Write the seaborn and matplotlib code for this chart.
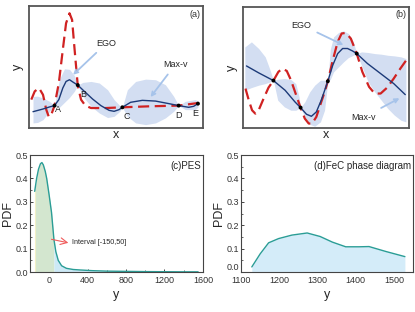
import numpy as np
import matplotlib
matplotlib.use("Agg")
import matplotlib.pyplot as plt
from matplotlib.ticker import AutoMinorLocator
import seaborn as sns

sns.set_theme(style="white")
plt.rcParams['font.family'] = ['Liberation Sans', 'DejaVu Sans']

# ---- panel (a): schematic, arbitrary units 0..10 ----
a_true_x = [0.13, 0.33, 0.58, 0.81, 1.0, 1.15, 1.29, 1.48, 1.73, 1.96, 2.15, 2.35, 2.5, 2.63,
            2.83, 3.02, 3.27, 3.6, 4.46, 5.42, 6.96, 8.69, 9.81]
a_true_y = [2.32, 3.0, 3.27, 2.72, 1.5, 0.9, 1.09, 1.83, 3.68, 6.4, 8.58, 9.4, 8.86, 6.68,
            3.46, 2.32, 1.83, 1.63, 1.63, 1.69, 1.77, 1.83, 2.04]
a_mean_x = [0.23, 0.81, 1.19, 1.48, 1.73, 1.96, 2.15, 2.35, 2.58, 2.83, 3.21, 3.69, 4.17, 4.65,
            4.94, 5.23, 5.42, 5.9, 6.58, 7.35, 8.12, 8.69, 9.27, 9.56, 9.81]
a_mean_y = [1.33, 1.55, 1.72, 1.83, 2.32, 3.27, 3.81, 3.95, 3.73, 3.51, 3.0, 2.37, 1.83, 1.44,
            1.36, 1.5, 1.69, 2.1, 2.26, 2.2, 1.99, 1.83, 1.69, 1.77, 1.99]
a_band_x = [0.23, 0.5, 0.81, 1.19, 1.48, 1.77, 2.06, 2.35, 2.63, 2.83, 3.12, 3.6, 4.08, 4.56,
            4.94, 5.27, 5.42, 5.71, 6.19, 6.77, 7.35, 7.92, 8.4, 8.69, 9.08, 9.65, 9.81]
a_band_hi = [2.59, 2.6, 2.45, 2.18, 1.83, 4.0, 4.85, 4.8, 4.3, 3.51, 3.73, 3.81, 3.68, 3.13,
             2.32, 1.83, 1.69, 3.13, 3.81, 4.0, 3.95, 3.54, 2.59, 1.83, 2.18, 2.32, 2.2]
a_band_lo = [0.41, 0.45, 0.68, 1.36, 1.83, 1.7, 2.1, 2.5, 3.0, 3.51, 2.59, 1.77, 1.22, 0.85,
             0.95, 1.36, 1.69, 0.95, 0.41, 0.27, 0.41, 0.82, 1.36, 1.83, 1.5, 1.5, 1.7]
a_pts_x = [1.48, 2.83, 5.42, 8.69, 9.81]
a_pts_y = [1.83, 3.51, 1.69, 1.83, 1.99]
a_letters = ["A", "B", "C", "D", "E"]
a_letter_x = [1.67, 3.12, 5.67, 8.69, 9.65]
a_letter_y = [1.5, 2.75, 0.9, 1.05, 1.2]

# ---- panel (b) ----
b_true_x = [0.14, 0.34, 0.54, 0.74, 0.94, 1.24, 1.54, 1.84, 2.14, 2.38, 2.65, 2.91, 3.19, 3.49,
            3.75, 3.99, 4.19, 4.45, 4.75, 4.99, 5.15, 5.45, 5.75, 5.99, 6.25, 6.55, 6.91, 7.25,
            7.66, 8.0, 8.36, 8.76, 9.16, 9.56, 9.92]
b_true_y = [3.25, 2.29, 1.46, 1.18, 1.46, 2.42, 3.33, 3.91, 4.63, 4.9, 4.71, 3.94, 2.84, 1.68,
            0.77, 0.36, 0.36, 0.91, 2.15, 3.11, 3.86, 5.59, 7.11, 7.8, 7.85, 7.38, 6.14, 4.63,
            3.39, 2.84, 2.84, 3.33, 4.08, 4.9, 5.59]
b_mean_x = [0.2, 0.94, 1.84, 2.55, 3.15, 3.49, 3.85, 4.15, 4.45, 4.75, 5.15, 5.45, 5.75, 6.05,
            6.35, 6.65, 6.91, 7.56, 8.36, 9.16, 9.86]
b_mean_y = [5.12, 4.55, 3.91, 3.11, 2.15, 1.68, 1.13, 0.96, 1.32, 2.29, 3.86, 5.18, 6.14, 6.56,
            6.56, 6.36, 6.14, 5.32, 4.49, 3.66, 2.75]
b_band_x = [0.1, 0.5, 0.94, 1.34, 1.64, 1.84, 2.1, 2.5, 2.9, 3.2, 3.4, 3.49, 3.75, 4.05, 4.35,
            4.7, 4.95, 5.15, 5.3, 5.5, 5.8, 6.1, 6.4, 6.7, 6.91, 7.2, 7.6, 8.0, 8.4, 8.8, 9.2,
            9.6, 9.9]
b_band_hi = [6.69, 7.11, 6.56, 5.87, 4.77, 3.91, 4.02, 4.08, 4.0, 3.66, 2.56, 1.68, 2.15, 2.98,
             3.53, 3.94, 3.94, 3.86, 6.5, 7.52, 7.88, 8.02, 7.8, 7.11, 6.14, 6.28, 6.23, 6.14,
             6.09, 6.0, 5.95, 5.87, 5.73]
b_band_lo = [3.11, 3.33, 3.53, 3.66, 3.8, 3.91, 2.29, 1.74, 1.46, 1.46, 1.6, 1.68, 0.91, 0.3,
             0.14, 0.5, 1.46, 3.86, 4.0, 4.63, 5.04, 5.45, 5.81, 6.0, 6.14, 5.18, 3.8, 2.98,
             2.29, 1.6, 1.05, 0.63, 0.5]
b_pts_x = [1.84, 3.49, 5.15, 6.91]
b_pts_y = [3.91, 1.68, 3.86, 6.14]

# ---- panel (c): PES ----
pes_y = [-150, -130, -110, -90, -75, -60, -40, -25, 0, 25, 50, 70, 95, 130, 180, 250, 320,
         450, 600, 800, 1000, 1200, 1400, 1550]
pes_pdf = [0.345, 0.40, 0.44, 0.463, 0.468, 0.458, 0.43, 0.40, 0.33, 0.255, 0.14, 0.087,
           0.05, 0.027, 0.016, 0.011, 0.009, 0.006, 0.004, 0.003, 0.002, 0.0015, 0.001, 0.001]
pes_interval = [-150, 50]

# ---- panel (d): FeC phase diagram ----
fec_y = [1128, 1150, 1172, 1198, 1233, 1273, 1307, 1339, 1374, 1409, 1435, 1479, 1529]
fec_pdf = [0.022, 0.078, 0.125, 0.143, 0.158, 0.167, 0.152, 0.128, 0.108, 0.108, 0.109,
           0.088, 0.066]

RED = "#d02222"
NAVY = "#1c3a78"
BAND = "#d3def2"
ARROW = "#a6c3ea"
TEAL = "#2a9d96"

fig = plt.figure(figsize=(4.15, 3.12), dpi=100)
ax_a = fig.add_axes([0.070, 0.590, 0.419, 0.391])
ax_b = fig.add_axes([0.586, 0.590, 0.400, 0.388])
ax_c = fig.add_axes([0.072, 0.128, 0.417, 0.375])
ax_d = fig.add_axes([0.581, 0.128, 0.414, 0.375])


def schematic(ax, tx, ty, mx, my, bx, bhi, blo, px, py, tag):
    ax.fill_between(bx, blo, bhi, color=BAND, lw=0, zorder=1)
    sns.lineplot(x=tx, y=ty, ax=ax, color=RED, lw=1.6, linestyle=(0, (5, 2.5)), zorder=3)
    sns.lineplot(x=mx, y=my, ax=ax, color=NAVY, lw=1.0, zorder=4)
    sns.scatterplot(x=px, y=py, ax=ax, color="black", s=8, zorder=5, edgecolor="none")
    ax.set_xlim(0, 10.1)
    ax.set_ylim(0, 10)
    ax.set_xticks([])
    ax.set_yticks([])
    ax.set_xlabel("x", fontsize=9, labelpad=1)
    ax.set_ylabel("y", fontsize=9, labelpad=4)
    for s in ax.spines.values():
        s.set_color("#555555")
        s.set_linewidth(1.3)
    ax.text(0.985, 0.97, tag, transform=ax.transAxes, ha="right", va="top", fontsize=6.5,
            color="#333333")


schematic(ax_a, a_true_x, a_true_y, a_mean_x, a_mean_y, a_band_x, a_band_hi, a_band_lo,
          a_pts_x, a_pts_y, "(a)")
for lab, lx, ly in zip(a_letters, a_letter_x, a_letter_y):
    ax_a.text(lx, ly, lab, fontsize=6.5, ha="center", va="center", color="#222222", zorder=6)
arrow = dict(arrowstyle="->", color=ARROW, lw=1.3)
ax_a.annotate("EGO", xy=(2.44, 4.2), xytext=(4.5, 6.95), fontsize=6.5, ha="center",
              va="center", arrowprops=arrow, zorder=6)
ax_a.annotate("Max-v", xy=(6.96, 2.35), xytext=(8.5, 5.2), fontsize=6.5, ha="center",
              va="center", arrowprops=arrow, zorder=6)

schematic(ax_b, b_true_x, b_true_y, b_mean_x, b_mean_y, b_band_x, b_band_hi, b_band_lo,
          b_pts_x, b_pts_y, "(b)")
ax_b.annotate("EGO", xy=(6.25, 6.75), xytext=(3.55, 8.5), fontsize=6.5, ha="center",
              va="center", arrowprops=arrow, zorder=6)
ax_b.annotate("Max-v", xy=(9.66, 2.56), xytext=(7.35, 0.9), fontsize=6.5, ha="center",
              va="center", arrowprops=arrow, zorder=6)

# panel (c)
pes_y_arr = np.array(pes_y)
pes_pdf_arr = np.array(pes_pdf)
inside = (pes_y_arr >= pes_interval[0]) & (pes_y_arr <= pes_interval[1])
ax_c.fill_between(pes_y_arr, 0, pes_pdf_arr, where=inside, color="#d3e6cf", lw=0)
ax_c.fill_between(pes_y_arr, 0, pes_pdf_arr, where=pes_y_arr >= pes_interval[1],
                  color="#cde9f6", lw=0)
ax_c.axvline(pes_interval[0], ymax=pes_pdf[0] / 0.5, color="#f1f0c8", lw=0.8)
sns.lineplot(x=pes_y, y=pes_pdf, ax=ax_c, color=TEAL, lw=1.0)
ax_c.set_xlim(-200, 1600)
ax_c.set_xticks([0, 400, 800, 1200, 1600])
ax_c.annotate("", xy=(200, 0.125), xytext=(25, 0.14),
              arrowprops=dict(arrowstyle="->", color="#f05a5a", lw=0.8,
                              shrinkA=0, shrinkB=0))
ax_c.text(235, 0.128, "Interval [-150,50]", fontsize=5.2, va="center")
ax_c.text(0.99, 0.95, "(c)PES", transform=ax_c.transAxes, ha="right", va="top", fontsize=7)

# panel (d)
ax_d.fill_between(fec_y, 0, fec_pdf, color="#d4ecf9", lw=0)
sns.lineplot(x=fec_y, y=fec_pdf, ax=ax_d, color=TEAL, lw=1.0)
ax_d.set_xlim(1100, 1550)
ax_d.set_xticks([1100, 1200, 1300, 1400, 1500])
ax_d.text(0.99, 0.95, "(d)FeC phase diagram", transform=ax_d.transAxes, ha="right",
          va="top", fontsize=7)

for ax in (ax_c, ax_d):
    ax.set_ylim(0, 0.5)
    ax.set_yticks([0.0, 0.1, 0.2, 0.3, 0.4, 0.5])
    ax.set_yticklabels(["0.0", "0.1", "0.2", "0.3", "0.4", "0.5"])
    ax.xaxis.set_minor_locator(AutoMinorLocator(2))
    ax.yaxis.set_minor_locator(AutoMinorLocator(2))
    ax.tick_params(which="major", direction="in", length=2.5, width=0.6, labelsize=6.5,
                   labelcolor="#333333", bottom=True, left=True)
    ax.tick_params(which="minor", direction="in", length=1.5, width=0.5, bottom=True,
                   left=True)
    ax.tick_params(axis="y", pad=1.5)
    ax.tick_params(axis="x", pad=2.5)
    ax.set_xlabel("y", fontsize=9, labelpad=3)
    ax.set_ylabel("PDF", fontsize=9, labelpad=1)
    for s in ax.spines.values():
        s.set_color("#444444")
        s.set_linewidth(0.8)

# lift the (d) "0.0" label a little so it sits clear of "1100", as in the reference
ax_d.get_yticklabels()[0].set_va("bottom")

fig.savefig("out.png", dpi=100, facecolor="white")
